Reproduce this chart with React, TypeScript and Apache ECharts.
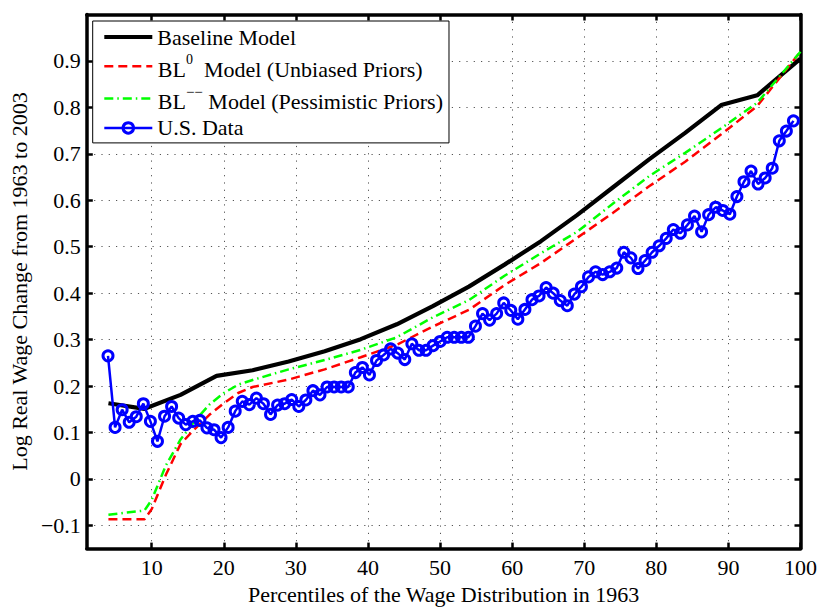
import React, { useEffect, useRef } from "react";
import * as echarts from "echarts";

const FONT = "'Liberation Serif', 'Times New Roman', serif";

const xTicks = [10, 20, 30, 40, 50, 60, 70, 80, 90, 100];
const yTicks = [-0.1, 0, 0.1, 0.2, 0.3, 0.4, 0.5, 0.6, 0.7, 0.8, 0.9];

const baselineX = [4, 9, 14, 19, 24, 29, 34, 39, 44, 49, 54, 59, 64, 69, 74, 79, 84, 89, 94, 100];
const baselineY = [0.163, 0.151, 0.181, 0.222, 0.234, 0.253, 0.275, 0.301, 0.333, 0.372, 0.414, 0.462, 0.512, 0.568, 0.628, 0.688, 0.745, 0.805, 0.826, 0.905];

const bl0X = [4, 9, 10, 12, 14, 16, 18, 20, 22, 24, 29, 34, 39, 44, 49, 54, 59, 64, 69, 74, 79, 84, 89, 94, 100];
const bl0Y = [-0.087, -0.087, -0.065, 0.01, 0.075, 0.108, 0.138, 0.163, 0.185, 0.198, 0.214, 0.236, 0.262, 0.289, 0.328, 0.364, 0.418, 0.465, 0.519, 0.573, 0.63, 0.683, 0.742, 0.803, 0.92];

const blmmX = [4, 9, 10, 12, 14, 16, 18, 20, 22, 24, 29, 34, 39, 44, 49, 54, 59, 64, 69, 74, 79, 84, 89, 94, 100];
const blmmY = [-0.077, -0.068, -0.045, 0.03, 0.085, 0.125, 0.16, 0.185, 0.203, 0.213, 0.236, 0.256, 0.278, 0.305, 0.348, 0.385, 0.438, 0.486, 0.532, 0.593, 0.652, 0.702, 0.755, 0.81, 0.92];

const usPct = [
  3, 4, 5, 6, 7, 8, 9, 10, 11, 12, 13, 14, 15, 16, 17, 18, 19, 20, 21, 22,
  23, 24, 25, 26, 27, 28, 29, 30, 31, 32, 33, 34, 35, 36, 37, 38, 39, 40, 41, 42,
  43, 44, 45, 46, 47, 48, 49, 50, 51, 52, 53, 54, 55, 56, 57, 58, 59, 60, 61, 62,
  63, 64, 65, 66, 67, 68, 69, 70, 71, 72, 73, 74, 75, 76, 77, 78, 79, 80, 81, 82,
  83, 84, 85, 86, 87, 88, 89, 90, 91, 92, 93, 94, 95, 96, 97, 98, 99, 100,
];
const usValues = [
  0.265, 0.111, 0.149, 0.122, 0.134, 0.162, 0.124, 0.081, 0.135, 0.156,
  0.131, 0.117, 0.124, 0.126, 0.11, 0.106, 0.089, 0.111, 0.146, 0.167,
  0.16, 0.174, 0.162, 0.139, 0.159, 0.162, 0.171, 0.156,
  0.17, 0.19, 0.181, 0.198, 0.198, 0.198, 0.198, 0.229, 0.24, 0.224,
  0.255, 0.267, 0.28, 0.271, 0.257, 0.291, 0.277, 0.277, 0.287, 0.296,
  0.305, 0.305, 0.305, 0.305, 0.329,
  0.356, 0.342, 0.356, 0.379, 0.363, 0.344, 0.365, 0.386, 0.394, 0.412,
  0.4, 0.384, 0.373, 0.398, 0.414, 0.435, 0.446, 0.44, 0.446, 0.454,
  0.488, 0.476, 0.453, 0.47,
  0.488, 0.502, 0.518, 0.537, 0.529, 0.547, 0.566, 0.532, 0.569, 0.585,
  0.578, 0.57, 0.608, 0.64, 0.663, 0.635, 0.648, 0.669, 0.728, 0.749, 0.771,
];

const NAMES = [
  "Baseline Model",
  "BL0 Model (Unbiased Priors)",
  "BL-- Model (Pessimistic Priors)",
  "U.S. Data",
];

const pairs = (xs: number[], ys: number[]) => xs.map((x, i) => [x, ys[i]]);

export default function App() {
  const ref = useRef<HTMLDivElement>(null);
  useEffect(() => {
    if (!ref.current) return;
    const chart = echarts.init(ref.current, undefined, { renderer: "svg" });
    const axisLine = { show: true, onZero: false, lineStyle: { color: "#000", width: 3.5 } };
    const tick = { show: true, inside: true, length: 6, lineStyle: { color: "#000", width: 2.5 } };
    const grid = { show: true, lineStyle: { color: "#555", width: 1, type: [1.2, 6.1] } };
    const label = { color: "#000", fontFamily: FONT, fontSize: 22 };
    const yFmt = (v: number) => (v < 0 ? "\u2212" + Math.abs(v).toFixed(1) : v === 0 ? "0" : v.toFixed(1));
    const base = { color: "#000", fontFamily: FONT };
    chart.setOption({
      animation: false,
      backgroundColor: "#fff",
      grid: { left: 85.5, right: 18.3, top: 14.5, bottom: 52.4, containLabel: false },
      xAxis: [
        {
          type: "value", position: "bottom", min: 1, max: 100,
          axisLine, axisTick: { ...tick, customValues: xTicks },
          axisLabel: { ...label, margin: 7.5, customValues: xTicks },
          splitLine: grid,
          name: "Percentiles of the Wage Distribution in 1963",
          nameLocation: "middle", nameGap: 28,
          nameTextStyle: { color: "#000", fontFamily: FONT, fontSize: 22 },
        },
        {
          type: "value", position: "top", min: 1, max: 100,
          axisLine, axisTick: { ...tick, customValues: xTicks },
          axisLabel: { show: false, customValues: xTicks }, splitLine: { show: false },
        },
        { type: "value", min: 0, max: 101, show: false, splitLine: { show: false } },
      ],
      yAxis: [
        {
          type: "value", position: "left", min: -0.15, max: 1.0,
          axisLine, axisTick: { ...tick, customValues: yTicks },
          axisLabel: { ...label, margin: 6, customValues: yTicks, formatter: yFmt },
          splitLine: grid,
          name: "Log Real Wage Change from 1963 to 2003",
          nameLocation: "middle", nameGap: 53,
          nameTextStyle: { color: "#000", fontFamily: FONT, fontSize: 22 },
        },
        {
          type: "value", position: "right", min: -0.15, max: 1.0,
          axisLine, axisTick: { ...tick, customValues: yTicks },
          axisLabel: { show: false, customValues: yTicks }, splitLine: { show: false },
        },
      ],
      legend: {
        orient: "vertical", left: 92.7, top: 21,
        padding: [5, 6, 4, 9.6], itemGap: 4.3, itemWidth: 48, itemHeight: 13,
        backgroundColor: "#fff", borderColor: "#000", borderWidth: 1,
        selectedMode: false,
        data: [
          { name: NAMES[0], itemStyle: { opacity: 0 }, lineStyle: { width: 4, type: "solid", color: "#000" } },
          { name: NAMES[1], itemStyle: { opacity: 0 }, lineStyle: { width: 2.5, type: [9, 5], color: "#ff0000" } },
          { name: NAMES[2], itemStyle: { opacity: 0 }, lineStyle: { width: 2.5, type: [9, 4, 1.5, 4], color: "#00ff00" } },
          { name: NAMES[3], itemStyle: { borderWidth: 3, borderColor: "#0000ff", color: "rgba(0,0,0,0)" }, lineStyle: { width: 2.5, type: "solid", color: "#0000ff" } },
        ],
        formatter: (n: string) => {
          if (n === NAMES[1]) return "{z|\u00a0}{m|BL}{s0|0}{m|\u00a0\u00a0Model (Unbiased Priors)}";
          if (n === NAMES[2]) return "{z|\u00a0}{m|BL}{s1|\u2212\u2212}{m|\u00a0Model (Pessimistic Priors)}";
          return "{m|" + n + "}";
        },
        textStyle: {
          ...base, fontSize: 22,
          rich: {
            z: { ...base, fontSize: 2, lineHeight: 28, verticalAlign: "top" },
            m: { ...base, fontSize: 22, lineHeight: 22, verticalAlign: "bottom" },
            s0: { ...base, fontSize: 14, lineHeight: 19.4, verticalAlign: "top" },
            s1: { ...base, fontSize: 15, lineHeight: 4.6, verticalAlign: "top" },
          },
        },
      },
      series: [
        {
          name: NAMES[0], type: "line", xAxisIndex: 0, yAxisIndex: 0, symbol: "none",
          data: pairs(baselineX, baselineY), lineStyle: { color: "#000", width: 4.2 },
          itemStyle: { color: "#000" }, silent: true, z: 2,
        },
        {
          name: NAMES[1], type: "line", xAxisIndex: 0, yAxisIndex: 0, symbol: "none",
          data: pairs(bl0X, bl0Y), lineStyle: { color: "#ff0000", width: 2.5, type: [9, 5] },
          itemStyle: { color: "#ff0000" }, silent: true, z: 3,
        },
        {
          name: NAMES[2], type: "line", xAxisIndex: 0, yAxisIndex: 0, symbol: "none",
          data: pairs(blmmX, blmmY), lineStyle: { color: "#00ff00", width: 2.5, type: [9, 4, 1.5, 4] },
          itemStyle: { color: "#00ff00" }, silent: true, z: 4,
        },
        {
          name: NAMES[3], type: "line", xAxisIndex: 2, yAxisIndex: 0, symbol: "circle", symbolSize: 10,
          showSymbol: true, showAllSymbol: true,
          data: pairs(usPct, usValues), lineStyle: { color: "#0000ff", width: 2.5 },
          itemStyle: { color: "rgba(0,0,0,0)", borderColor: "#0000ff", borderWidth: 3 },
          silent: true, z: 5,
        },
      ],
    });
    return () => chart.dispose();
  }, []);
  return (
    <div
      ref={ref}
      style={{ position: "absolute", left: 0, top: 0, width: 820, height: 610, background: "#fff" }}
    />
  );
}
